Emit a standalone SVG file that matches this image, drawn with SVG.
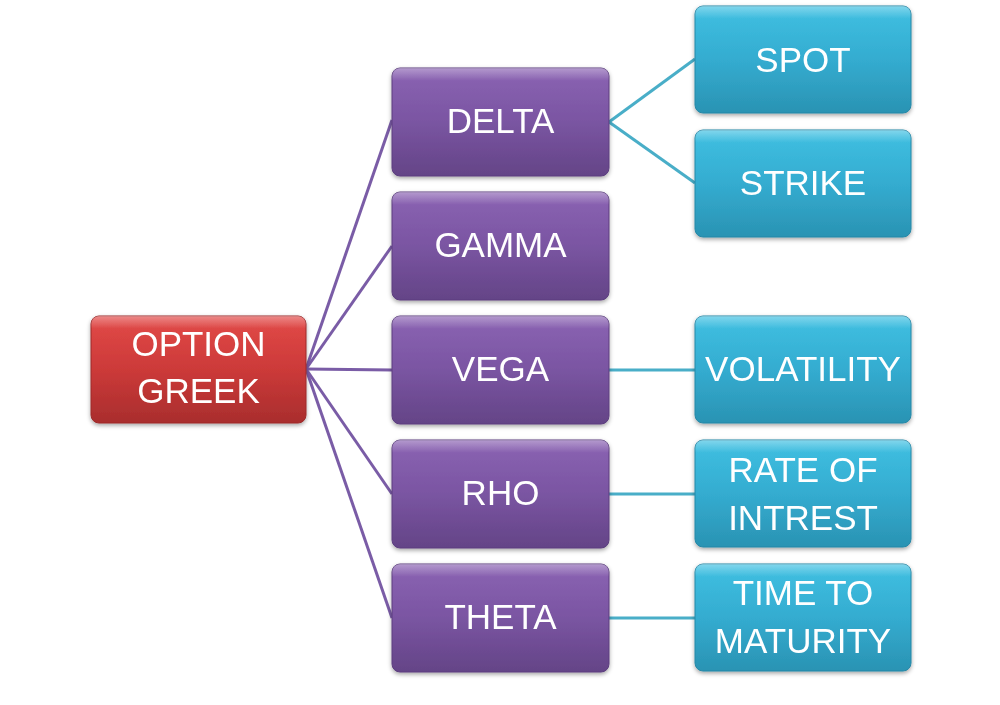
<svg xmlns="http://www.w3.org/2000/svg" width="1000" height="705" viewBox="0 0 1000 705">
<defs>
<linearGradient id="gRed" x1="0" y1="0" x2="0" y2="1">
<stop offset="0" stop-color="#e24a48"/><stop offset="0.5" stop-color="#cc3a39"/><stop offset="1" stop-color="#a92d2d"/>
</linearGradient>
<linearGradient id="gPur" x1="0" y1="0" x2="0" y2="1">
<stop offset="0" stop-color="#8b63b3"/><stop offset="0.5" stop-color="#7a55a2"/><stop offset="1" stop-color="#644487"/>
</linearGradient>
<linearGradient id="gBlu" x1="0" y1="0" x2="0" y2="1">
<stop offset="0" stop-color="#3fc0e2"/><stop offset="0.5" stop-color="#34acd0"/><stop offset="1" stop-color="#2a93b3"/>
</linearGradient>
<linearGradient id="gHi" x1="0" y1="0" x2="0" y2="1">
<stop offset="0" stop-color="#ffffff" stop-opacity="0.35"/><stop offset="0.12" stop-color="#ffffff" stop-opacity="0"/>
</linearGradient>
<filter id="sh" x="-10%" y="-10%" width="120%" height="130%">
<feDropShadow dx="0" dy="2" stdDeviation="2" flood-color="#000" flood-opacity="0.35"/>
</filter>
</defs>
<style>
.box{filter:url(#sh)}
.hi{fill:url(#gHi)}
.red{fill:url(#gRed);stroke:#9c2a2a;stroke-width:1}
.pur{fill:url(#gPur);stroke:#5c3e7e;stroke-width:1}
.blu{fill:url(#gBlu);stroke:#2787a6;stroke-width:1}
text{font-family:"Liberation Sans",Arial,sans-serif;font-size:35px;fill:#ffffff;text-anchor:middle}
.lp{stroke:#7a5ca6;stroke-width:3;fill:none}
.lb{stroke:#49aec8;stroke-width:3;fill:none}
</style>
<rect width="1000" height="705" fill="#ffffff"/>
<g id="connectors">
<line class="lp" x1="306" y1="369" x2="392" y2="120"/>
<line class="lp" x1="306" y1="369" x2="392" y2="246"/>
<line class="lp" x1="306" y1="369" x2="392" y2="370"/>
<line class="lp" x1="306" y1="369" x2="392" y2="494"/>
<line class="lp" x1="306" y1="369" x2="392" y2="618"/>
<line class="lb" x1="609" y1="122" x2="695" y2="59"/>
<line class="lb" x1="609" y1="122" x2="695" y2="183"/>
<line class="lb" x1="609" y1="370" x2="695" y2="370"/>
<line class="lb" x1="609" y1="494" x2="695" y2="494"/>
<line class="lb" x1="609" y1="618" x2="695" y2="618"/>
</g>
<g id="option-greek" class="box">
<rect class="red" x="91" y="316" width="215" height="107" rx="8"/>
<rect class="hi" x="91" y="316" width="215" height="107" rx="8"/>
<text x="198.5" y="356">OPTION</text>
<text x="198.5" y="403">GREEK</text>
</g>
<g id="delta" class="box">
<rect class="pur" x="392" y="68" width="217" height="108" rx="8"/>
<rect class="hi" x="392" y="68" width="217" height="108" rx="8"/>
<text x="500.5" y="133">DELTA</text>
</g>
<g id="gamma" class="box">
<rect class="pur" x="392" y="192" width="217" height="108" rx="8"/>
<rect class="hi" x="392" y="192" width="217" height="108" rx="8"/>
<text x="500.5" y="257">GAMMA</text>
</g>
<g id="vega" class="box">
<rect class="pur" x="392" y="316" width="217" height="108" rx="8"/>
<rect class="hi" x="392" y="316" width="217" height="108" rx="8"/>
<text x="500.5" y="381">VEGA</text>
</g>
<g id="rho" class="box">
<rect class="pur" x="392" y="440" width="217" height="108" rx="8"/>
<rect class="hi" x="392" y="440" width="217" height="108" rx="8"/>
<text x="500.5" y="505">RHO</text>
</g>
<g id="theta" class="box">
<rect class="pur" x="392" y="564" width="217" height="108" rx="8"/>
<rect class="hi" x="392" y="564" width="217" height="108" rx="8"/>
<text x="500.5" y="629">THETA</text>
</g>
<g id="spot" class="box">
<rect class="blu" x="695" y="6" width="216" height="107" rx="8"/>
<rect class="hi" x="695" y="6" width="216" height="107" rx="8"/>
<text x="803" y="72">SPOT</text>
</g>
<g id="strike" class="box">
<rect class="blu" x="695" y="130" width="216" height="107" rx="8"/>
<rect class="hi" x="695" y="130" width="216" height="107" rx="8"/>
<text x="803" y="195">STRIKE</text>
</g>
<g id="volatility" class="box">
<rect class="blu" x="695" y="316" width="216" height="107" rx="8"/>
<rect class="hi" x="695" y="316" width="216" height="107" rx="8"/>
<text x="803" y="381">VOLATILITY</text>
</g>
<g id="rate-of-intrest" class="box">
<rect class="blu" x="695" y="440" width="216" height="107" rx="8"/>
<rect class="hi" x="695" y="440" width="216" height="107" rx="8"/>
<text x="803" y="482">RATE OF</text>
<text x="803" y="530">INTREST</text>
</g>
<g id="time-to-maturity" class="box">
<rect class="blu" x="695" y="564" width="216" height="107" rx="8"/>
<rect class="hi" x="695" y="564" width="216" height="107" rx="8"/>
<text x="803" y="605">TIME TO</text>
<text x="803" y="653">MATURITY</text>
</g>
</svg>
